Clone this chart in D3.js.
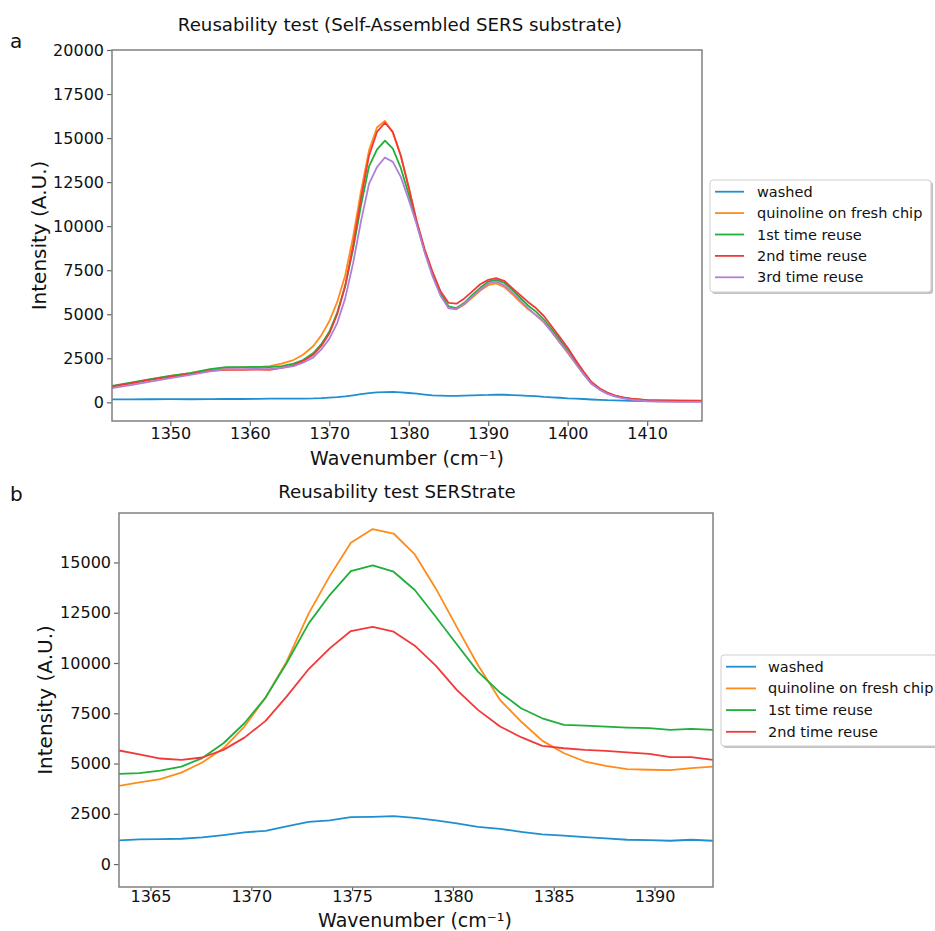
<!DOCTYPE html>
<html><head><meta charset="utf-8">
<script src="https://cdn.jsdelivr.net/npm/d3@7"></script>
<style>body{margin:0;background:#fff}svg{display:block}</style>
</head><body><svg id="c" width="935" height="931"></svg>
<script>
// ---------- Panel a data ----------
const waveA = [1342.6,1345,1347.5,1350,1352.5,1355,1357,1359,1361,1362.5,1364,1365.5,1366.7,1368,1369,1370,1371,1372,1373,1374,1375,1376,1377,1378,1379,1380,1381,1382,1383,1384,1385,1386,1387,1388,1389,1390,1391,1392,1393,1394,1395,1396,1397,1398,1399,1400,1401,1402,1403,1404,1405,1406,1407,1408,1410,1412,1414,1416.9];
const washedA = [170,170,175,180,175,180,200,190,200,210,210,210,210,220,240,270,300,340,400,460,520,560,580,590,570,530,490,440,400,380,370,370,380,400,410,420,440,430,410,390,370,350,310,280,260,230,210,190,160,140,120,110,100,90,70,60,60,60];
const freshA = [880,1080,1300,1500,1650,1850,1950,1980,2000,2050,2200,2400,2700,3200,3800,4600,5700,7200,9400,12000,14300,15600,15980,15300,14000,12200,10200,8600,7300,6200,5350,5280,5550,5950,6350,6650,6750,6550,6150,5700,5300,4950,4550,4000,3400,2800,2200,1600,1050,750,500,350,250,200,110,90,80,80];
const reuse1A = [930,1120,1320,1500,1660,1880,2000,2000,2010,2000,2050,2200,2400,2800,3300,4000,5100,6600,8700,11200,13400,14350,14850,14400,13300,11800,10200,8600,7300,6200,5450,5350,5650,6100,6500,6850,6950,6800,6400,5950,5500,5150,4700,4150,3550,2950,2300,1650,1100,760,520,360,260,200,120,100,90,80];
const reuse2A = [900,1080,1280,1450,1600,1780,1850,1840,1860,1850,1950,2100,2350,2700,3200,3900,5000,6600,8900,11600,14000,15350,15870,15350,14000,12200,10300,8700,7400,6300,5650,5600,5900,6300,6700,6950,7050,6900,6500,6100,5700,5350,4900,4300,3700,3100,2400,1750,1150,800,550,380,280,210,130,110,100,90];
const reuse3A = [800,980,1180,1380,1560,1760,1880,1890,1900,1880,1950,2050,2250,2550,3000,3600,4500,5900,7900,10300,12400,13350,13900,13650,12800,11500,10100,8500,7150,6050,5350,5300,5600,6000,6400,6750,6850,6650,6250,5800,5350,4950,4550,4000,3400,2850,2200,1600,1050,720,480,320,220,150,60,40,30,30];
const namesA = ["washed","quinoline on fresh chip","1st time reuse","2nd time reuse","3rd time reuse"];
const xTicksA = [1350,1360,1370,1380,1390,1400,1410];
const yTicksA = [0,2500,5000,7500,10000,12500,15000,17500,20000];

// ---------- Panel b data ----------
const waveB = [1363.44,1364.45,1365.49,1366.53,1367.57,1368.62,1369.66,1370.71,1371.75,1372.85,1373.89,1374.94,1376.02,1377.06,1378.11,1379.15,1380.19,1381.24,1382.34,1383.38,1384.43,1385.51,1386.55,1387.59,1388.64,1389.74,1390.78,1391.82,1392.9];
const washedB = [1175,1225,1240,1260,1325,1440,1575,1655,1870,2100,2170,2335,2350,2385,2300,2170,2020,1855,1755,1605,1475,1410,1340,1275,1210,1190,1160,1210,1160];
const freshB = [3890,4060,4220,4550,5050,5760,6840,8280,10070,12470,14320,15980,16660,16440,15400,13710,11800,9900,8160,7090,6140,5510,5100,4885,4720,4690,4670,4770,4850];
const reuse1B = [4490,4520,4650,4850,5270,6010,7005,8280,9985,11970,13380,14570,14850,14540,13630,12300,10930,9570,8530,7750,7250,6920,6890,6840,6790,6760,6670,6720,6670];
const reuse2B = [5650,5450,5250,5180,5300,5680,6290,7120,8330,9700,10730,11590,11800,11560,10860,9870,8660,7670,6840,6310,5880,5760,5680,5630,5560,5480,5320,5320,5180];
const namesB = ["washed","quinoline on fresh chip","1st time reuse","2nd time reuse"];
const xTicksB = [1365,1370,1375,1380,1385,1390];
const yTicksB = [0,2500,5000,7500,10000,12500,15000];

const palette = ["#1f8fd0","#ff8c1a","#1faf3a","#f03a3a","#b07fd6"];

const svg = d3.select("#c");
const FONT = "DejaVu Sans, sans-serif";

function panel(o) {
  const g = svg.append("g");
  const x = d3.scaleLinear().domain(o.xDomain).range([o.left, o.right]);
  const y = d3.scaleLinear().domain(o.yDomain).range([o.bottom, o.top]);
  const cid = "clip" + o.id;
  svg.append("defs").append("clipPath").attr("id", cid)
    .append("rect").attr("x", o.left).attr("y", o.top)
    .attr("width", o.right - o.left).attr("height", o.bottom - o.top);

  const line = d3.line().x(d => x(d[0])).y(d => y(d[1]));
  o.series.forEach((s, i) => {
    g.append("path").datum(o.wave.map((w, k) => [w, s[k]]))
      .attr("d", line).attr("fill", "none")
      .attr("stroke", palette[i]).attr("stroke-width", 1.8)
      .attr("stroke-linejoin", "round")
      .attr("clip-path", `url(#${cid})`);
  });

  // axes
  const xa = g.append("g").attr("transform", `translate(0,${o.bottom})`)
    .call(d3.axisBottom(x).tickValues(o.xTicks).tickSize(o.xTickSize).tickPadding(o.xTickPad).tickFormat(d3.format("d")));
  const ya = g.append("g").attr("transform", `translate(${o.left},0)`)
    .call(d3.axisLeft(y).tickValues(o.yTicks).tickSize(5).tickPadding(3).tickFormat(d3.format("d")));
  [xa, ya].forEach(a => {
    a.select(".domain").remove();
    a.selectAll(".tick line").attr("stroke", "#666").attr("stroke-width", 1.2);
    a.selectAll(".tick text").attr("font-family", FONT).attr("font-size", 16).attr("fill", "#111");
  });
  // frame
  g.append("rect").attr("x", o.left).attr("y", o.top)
    .attr("width", o.right - o.left).attr("height", o.bottom - o.top)
    .attr("fill", "none").attr("stroke", "#808080").attr("stroke-width", 1.5);

  // titles & labels
  g.append("text").attr("x", o.titleX).attr("y", o.titleY).attr("text-anchor", "middle")
    .attr("font-family", FONT).attr("font-size", 18.2).attr("fill", "#111").text(o.title);
  g.append("text").attr("x", o.tagX).attr("y", o.tagY)
    .attr("font-family", FONT).attr("font-size", 20).attr("fill", "#111").text(o.tag);
  g.append("text").attr("transform", `translate(${o.yLabelX},${(o.top + o.bottom) / 2}) rotate(-90)`)
    .attr("text-anchor", "middle").attr("font-family", FONT).attr("font-size", 20).attr("fill", "#111")
    .text("Intensity (A.U.)");
  g.append("text").attr("x", o.xLabelX).attr("y", o.xLabelY).attr("text-anchor", "middle")
    .attr("font-family", FONT).attr("font-size", 19).attr("fill", "#111")
    .text("Wavenumber (cm\u207B\u00B9)");

  // legend
  const L = o.legend;
  const lg = svg.append("g");
  lg.append("rect").attr("x", L.x + 2).attr("y", L.y + 2).attr("width", L.w).attr("height", L.h)
    .attr("rx", 3).attr("fill", "#9a9a9a").attr("opacity", 0.6);
  lg.append("rect").attr("x", L.x).attr("y", L.y).attr("width", L.w).attr("height", L.h)
    .attr("rx", 3).attr("fill", "#fff").attr("stroke", "#cfcfcf").attr("stroke-width", 1);
  o.names.forEach((n, i) => {
    const yy = L.y0 + i * L.dy;
    lg.append("line").attr("x1", L.hx1).attr("x2", L.hx2).attr("y1", yy).attr("y2", yy)
      .attr("stroke", palette[i]).attr("stroke-width", 1.8);
    lg.append("text").attr("x", L.tx).attr("y", yy).attr("dy", "0.35em")
      .attr("font-family", FONT).attr("font-size", 14.5).attr("fill", "#111").text(n);
  });
}

panel({
  id: "a", wave: waveA, series: [washedA, freshA, reuse1A, reuse2A, reuse3A], names: namesA,
  xDomain: [1342.66, 1416.9], yDomain: [-1060, 20000],
  left: 112, right: 702, top: 50, bottom: 421,
  xTicks: xTicksA, yTicks: yTicksA, xTickSize: 5, xTickPad: 2,
  title: "Reusability test (Self-Assembled SERS substrate)", titleX: 400, titleY: 31,
  tag: "a", tagX: 10, tagY: 48,
  yLabelX: 46, xLabelX: 407, xLabelY: 465,
  legend: {x: 710, y: 180, w: 221, h: 112, y0: 191.7, dy: 21.4, hx1: 715, hx2: 744, tx: 757}
});

panel({
  id: "b", wave: waveB, series: [washedB, freshB, reuse1B, reuse2B], names: namesB,
  xDomain: [1363.44, 1392.9], yDomain: [-1140, 17460],
  left: 119, right: 713, top: 513, bottom: 887,
  xTicks: xTicksB, yTicks: yTicksB, xTickSize: 4, xTickPad: 0,
  title: "Reusability test SERStrate", titleX: 397, titleY: 498,
  tag: "b", tagX: 10, tagY: 501,
  yLabelX: 52, xLabelX: 415, xLabelY: 927,
  legend: {x: 721, y: 655, w: 230, h: 91, y0: 666.7, dy: 21.7, hx1: 726, hx2: 756, tx: 768}
});
</script>
</body></html>
